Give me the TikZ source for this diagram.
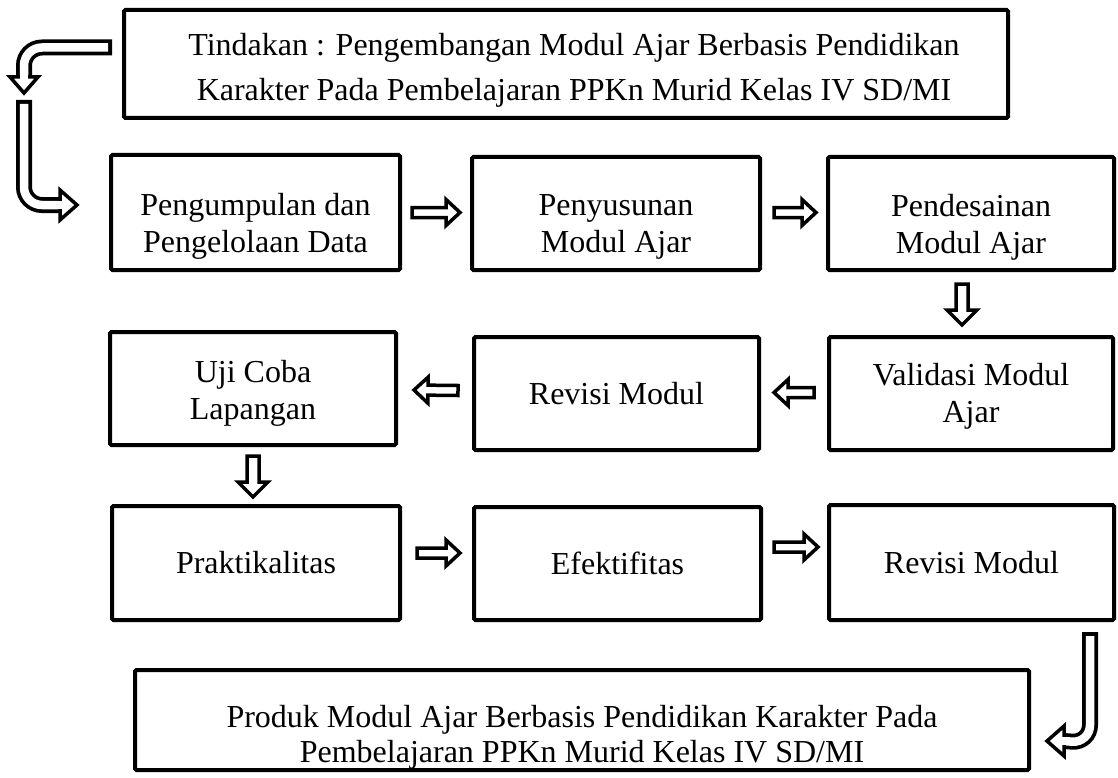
\documentclass[tikz,border=0pt]{standalone}
\usepackage{fontspec}
\setmainfont{Liberation Serif}
\usetikzlibrary{calc}
\tikzset{
  box/.style={draw, line width=4pt, rounded corners=1.5pt, inner sep=0pt},
  txt/.style={align=center, inner sep=0pt, font=\fontsize{32}{37}\selectfont},
  arr/.style={draw, fill=white, line width=3.5pt, line join=miter},
  barrow/.style n args={3}{to path={
    ($(\tikztotarget)!#3!(\tikztostart)$) coordinate (bab)
    ($(\tikztostart)!#1!90:(\tikztotarget)$) -- ($(bab)!#1!90:(\tikztotarget)$)
    -- ($(bab)!#2!90:(\tikztotarget)$) -- (\tikztotarget)
    -- ($(bab)!#2!-90:(\tikztotarget)$) -- ($(bab)!#1!-90:(\tikztotarget)$)
    -- ($(\tikztostart)!#1!-90:(\tikztotarget)$) -- cycle}},
  harr/.style={arr, barrow={5pt}{13pt}{14pt}},
  varr/.style={arr, barrow={6pt}{15pt}{15pt}},
  tubeout/.style={line width=16pt, rounded corners=18pt},
  tubein/.style={white, line width=8.5pt, rounded corners=18pt},
  bhead/.style={draw, fill=white, line width=3.5pt, line join=miter},
}
\begin{document}
\begin{tikzpicture}[x=1pt,y=-1pt]
\useasboundingbox (0,0) rectangle (1118,778);

% boxes
\node[box, minimum width=884, minimum height=108,
  label={[txt, font=\fontsize{32}{45}\selectfont, xshift=8pt, yshift=-6pt]center:{Tindakan : Pengembangan Modul Ajar Berbasis Pendidikan\\Karakter Pada Pembelajaran PPKn Murid Kelas IV SD/MI}}] (top) at (566,64) {};
\node[box, minimum width=289, minimum height=115,
  label={[txt, yshift=-13.5pt]center:{Pengumpulan dan\\Pengelolaan Data}}] (A) at (255.5,212.5) {};
\node[box, minimum width=288, minimum height=113,
  label={[txt, yshift=-13.5pt]center:{Penyusunan\\Modul Ajar}}] (B) at (616,213.5) {};
\node[box, minimum width=286, minimum height=113,
  label={[txt, yshift=-13.5pt]center:{Pendesainan\\Modul Ajar}}] (C) at (971,213.5) {};
\node[box, minimum width=286, minimum height=113,
  label={[txt, yshift=-5pt]center:{Uji Coba\\Lapangan}}] (U) at (253,388.5) {};
\node[box, minimum width=285, minimum height=113,
  label={[txt]center:{Revisi Modul}}] (R1) at (616.5,393.5) {};
\node[box, minimum width=284, minimum height=113,
  label={[txt, yshift=-3pt]center:{Validasi Modul\\Ajar}}] (V) at (971,393.5) {};
\node[box, minimum width=288, minimum height=114,
  label={[txt]center:{Praktikalitas}}] (P) at (256,563) {};
\node[box, minimum width=287, minimum height=113,
  label={[txt]center:{Efektifitas}}] (E) at (617.5,563.5) {};
\node[box, minimum width=285, minimum height=115,
  label={[txt]center:{Revisi Modul}}] (R2) at (971.5,562.5) {};
\node[box, minimum width=894, minimum height=100,
  label={[txt, font=\fontsize{32}{35}\selectfont, yshift=-17pt]center:{Produk Modul Ajar Berbasis Pendidikan Karakter Pada\\Pembelajaran PPKn Murid Kelas IV SD/MI}}] (F) at (582,720) {};

% straight block arrows
\draw[harr] ($(A.east)+(10,0)$) to ($(B.west)+(-10,-1)$);
\draw[harr] ($(B.east)+(12,-1)$) to ($(C.west)+(-10,-1)$);
\draw[varr] ($(C.south)+(-9,12)$) to ($(V.north)+(-9,-10)$);
\draw[harr] ($(V.west)+(-13,-1)$) to ($(R1.east)+(13,-1)$);
\draw[harr] ($(R1.west)+(-14,-3)$) to ($(U.east)+(16,1.5)$);
\draw[varr] ($(U.south)+(0,9)$) to ($(P.north)+(-3,-7)$);
\draw[harr] ($(P.east)+(15,-10)$) to ($(E.west)+(-12,-10.5)$);
\draw[harr] ($(E.east)+(11,-16.5)$) to ($(R2.west)+(-9,-15.5)$);

% bent arrow: top box -> down
\coordinate (ul0) at ($(top.west)+(-10,-16.5)$);
\coordinate (ulc) at (24,47.5);
\coordinate (ulb) at (24,77);
\draw[tubeout] (ul0) -- (ulc) -- (ulb);
\draw[tubein] ($(ul0)+(-4,0)$) -- (ulc) -- ($(ulb)+(0,1)$);
\draw[bhead] (10,77) -- (38,77) -- (24,93) -- cycle;
\draw[white, line width=8.5pt] (24,73) -- (24,81);

% bent arrow: down -> box A
\coordinate (ll0) at (24,100);
\coordinate (llc) at (24,205);
\coordinate (llb) at ($(A.west)+(-49,-7.5)$);
\draw[tubeout] (ll0) -- (llc) -- (llb);
\draw[tubein] ($(ll0)+(0,4)$) -- (llc) -- ($(llb)+(1,0)$);
\draw[bhead] ($(llb)+(0,-15)$) -- ($(llb)+(0,15)$) -- ($(llb)+(17,0)$) -- cycle;
\draw[white, line width=8.5pt] ($(llb)+(-4,0)$) -- ($(llb)+(4,0)$);

% bent arrow: Revisi Modul -> final box
\coordinate (br0) at ($(R2.south east)+(-26,10)$);
\coordinate (brc) at ($(br0)+(0,111)$);
\coordinate (brb) at ($(F.east)+(33,21)$);
\draw[tubeout] (br0) -- (brc) -- (brb);
\draw[tubein] ($(br0)+(0,4)$) -- (brc) -- ($(brb)+(-1,0)$);
\draw[bhead] ($(brb)+(0,-15)$) -- ($(brb)+(0,15)$) -- ($(brb)+(-17,0)$) -- cycle;
\draw[white, line width=8.5pt] ($(brb)+(4,0)$) -- ($(brb)+(-4,0)$);
\end{tikzpicture}
\end{document}
